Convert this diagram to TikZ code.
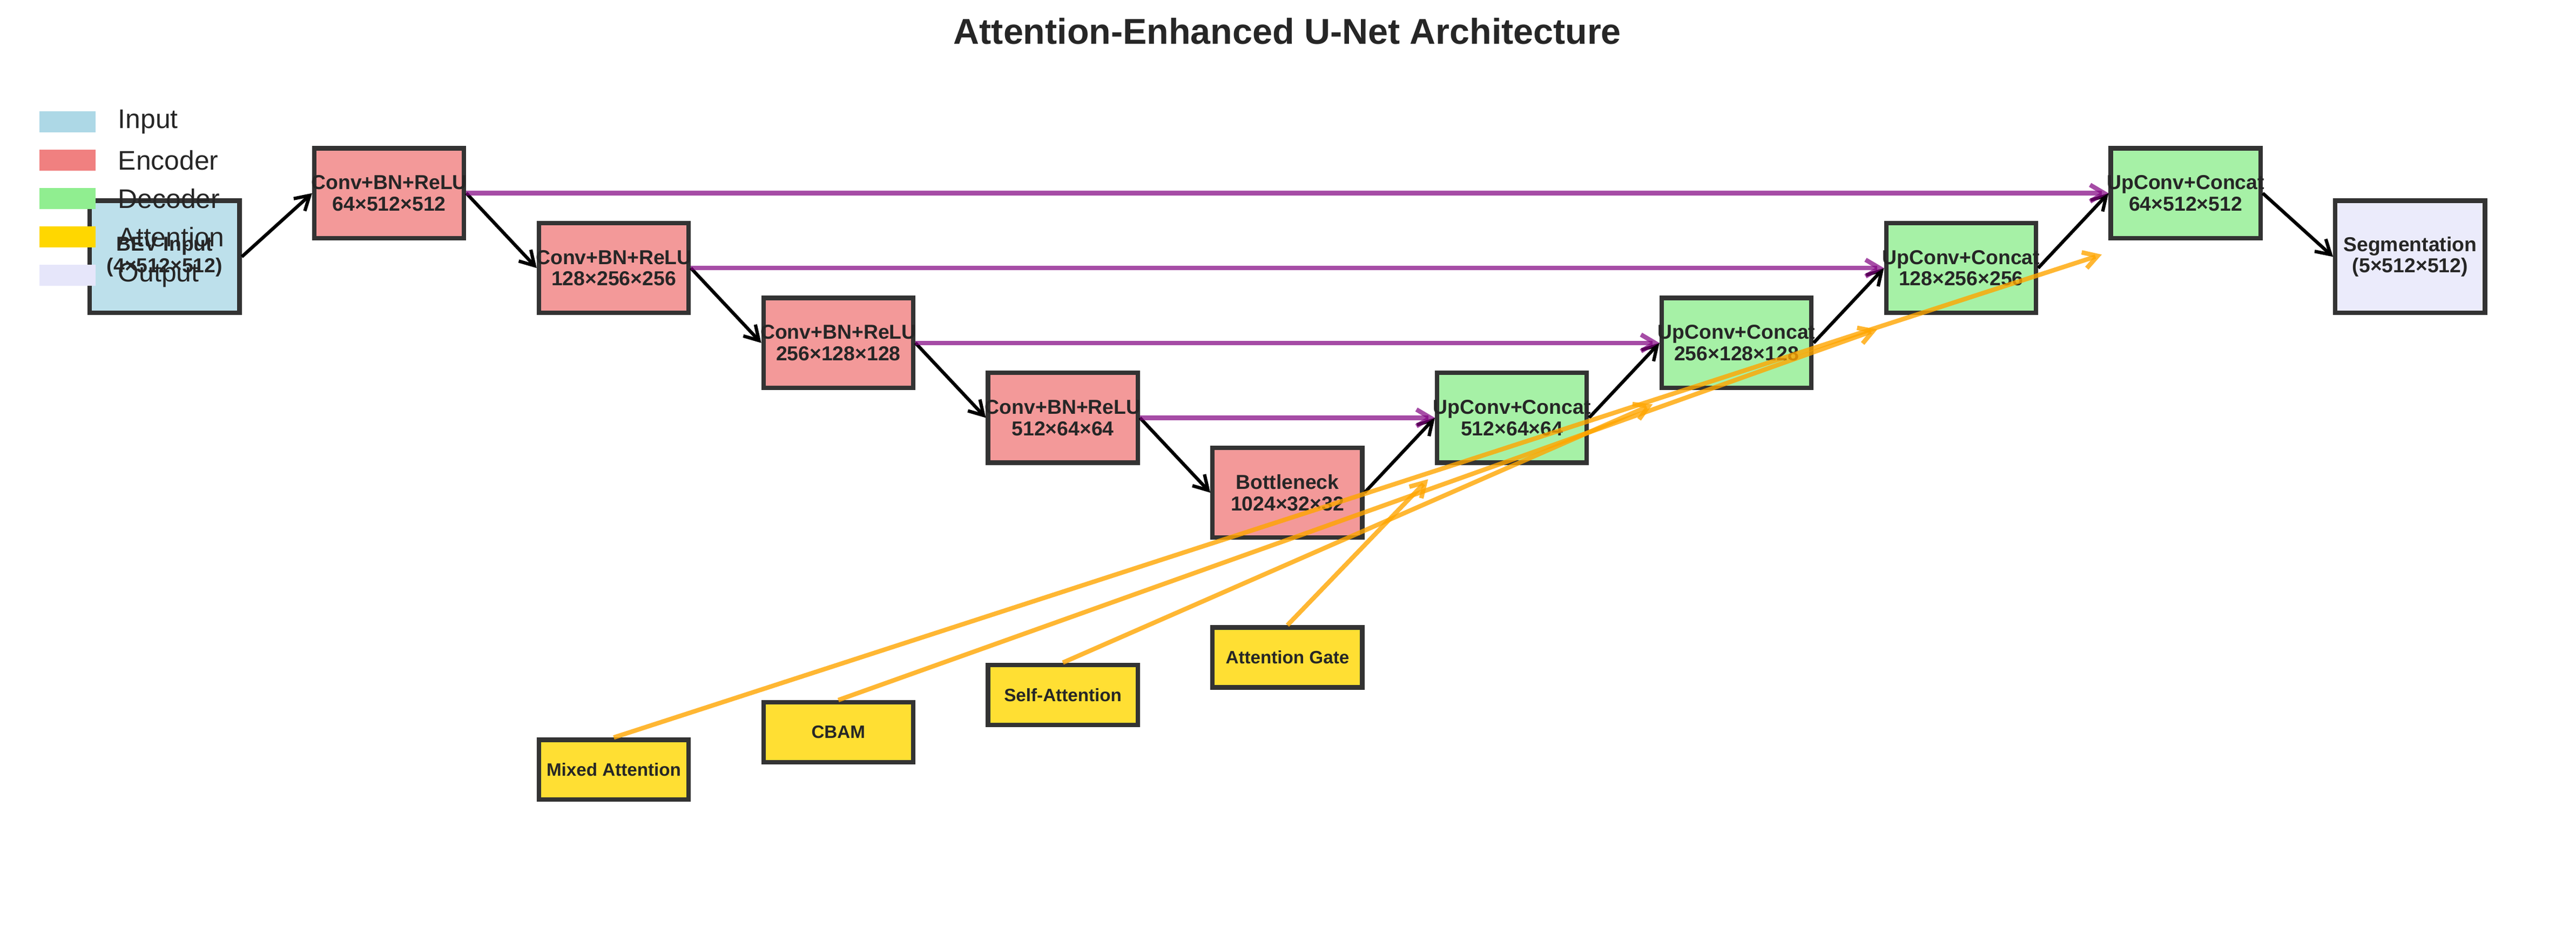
\documentclass[tikz,border=0pt]{standalone}
\usepackage{fontspec}
\setmainfont{Liberation Sans}
\usetikzlibrary{calc}
\usetikzlibrary{arrows.meta}

\definecolor{inblue}{HTML}{ADD8E6}
\definecolor{enccoral}{HTML}{F08080}
\definecolor{decgreen}{HTML}{90EE90}
\definecolor{attgold}{HTML}{FFD700}
\definecolor{outlav}{HTML}{E6E6FA}
\definecolor{skippurple}{HTML}{800080}
\definecolor{attorange}{HTML}{FFA500}
\definecolor{txtgray}{HTML}{262626}
\definecolor{edgegray}{HTML}{333333}

\newcommand{\twolines}[2]{\makebox[0pt]{#1}\\\makebox[0pt]{#2}}

\begin{document}
\begin{tikzpicture} [x=2.347cm, y=2.347cm, text=txtgray,
  font=\bfseries\fontsize{9}{9.6}\selectfont,
  blk/.style={rectangle, draw=edgegray, line width=2pt, inner sep=0pt, align=center, minimum width=2.347cm, minimum height=1.408cm},
  tallblk/.style={blk, minimum height=1.760cm},
  attblk/.style={blk, minimum height=0.939cm, fill=attgold!80!white, font=\bfseries\fontsize{8}{9}\selectfont},
  flow/.style={-{Straight Barb[length=2.2mm,width=2.6mm]}, line width=1.5pt, black},
  skip/.style={-{Straight Barb[length=2.2mm,width=2.6mm]}, line width=2pt, skippurple, draw opacity=.7},
  attn/.style={-{Straight Barb[length=2.2mm,width=2.6mm]}, line width=2pt, attorange, draw opacity=.8},
  legpatch/.style={rectangle, inner sep=0pt, minimum width=0.880cm, minimum height=0.331cm}]
\useasboundingbox (0,0) rectangle (17.208,6.19);

\node (title) at (8.6,5.98) {\fontsize{16}{19}\selectfont Attention-Enhanced U-Net Architecture};

\node[tallblk, fill=inblue!80!white] (bev) at (1.1,4.475) {\twolines{BEV Input}{(4×512×512)}};

\foreach \i/\x/\y/\sz in {1/2.6/4.9/64×512×512, 2/4.1/4.4/128×256×256, 3/5.6/3.9/256×128×128, 4/7.1/3.4/512×64×64}
  \node[blk, fill=enccoral!80!white] (enc\i) at (\x,\y) {\twolines{Conv+BN+ReLU}{\sz}};

\node[blk, fill=enccoral!80!white] (neck) at (8.6,2.9) {\twolines{Bottleneck}{1024×32×32}};

\foreach \i/\x/\y/\sz in {4/10.1/3.4/512×64×64, 3/11.6/3.9/256×128×128, 2/13.1/4.4/128×256×256, 1/14.6/4.9/64×512×512}
  \node[blk, fill=decgreen!80!white] (dec\i) at (\x,\y) {\twolines{UpConv+Concat}{\sz}};

\node[tallblk, fill=outlav!80!white] (seg) at (16.1,4.475) {\twolines{Segmentation}{(5×512×512)}};

\foreach \i/\x/\y/\nm in {4/8.6/1.8/Attention Gate, 3/7.1/1.55/Self-Attention, 2/5.6/1.3/CBAM, 1/4.1/1.05/Mixed Attention}
  \node[attblk] (att\i) at (\x,\y) {\nm};

\draw[flow] (bev.east) -- (enc1.west);
\foreach \a/\b in {enc1/enc2, enc2/enc3, enc3/enc4, enc4/neck, neck/dec4, dec4/dec3, dec3/dec2, dec2/dec1, dec1/seg}
  \draw[flow] (\a.east) -- (\b.west);

\foreach \i in {1,...,4} \draw[skip] (enc\i.east) -- (dec\i.west);

\foreach \i in {1,...,4} \coordinate (tip\i) at ($(dec\i)+(-0.56,-0.41)$);
\foreach \i in {1,...,4} \draw[attn] (att\i.north) -- (tip\i);

\foreach \nm/\cl [count=\k] in {Input/inblue, Encoder/enccoral, Decoder/decgreen, Attention/attgold, Output/outlav} {
  \node[legpatch, fill=\cl] (key\k) at (0.450,5.376-0.256*\k+0.256) {};
  \node[anchor=west, inner sep=0pt, font=\mdseries\fontsize{12}{14}\selectfont] (leg\k) at (0.787,5.376-0.256*\k+0.256) {\nm};
}
\end{tikzpicture}
\end{document}
